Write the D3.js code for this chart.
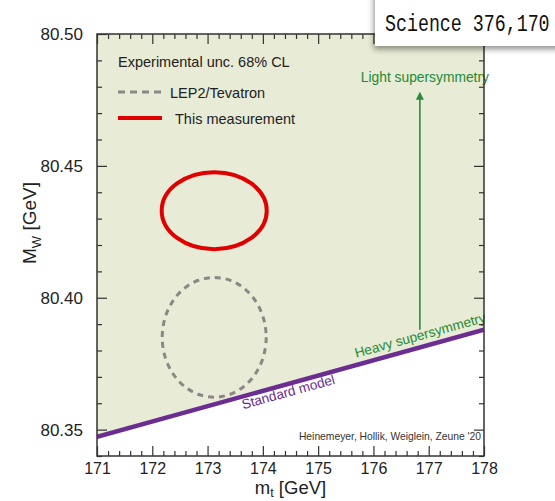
<!DOCTYPE html>
<html lang="en">
<head>
<meta charset="utf-8">
<title>MW vs mt</title>
<script src="https://d3js.org/d3.v7.min.js"></script>
<style>
  body { margin: 0; background: #fff; }
  svg { display: block; font-family: "Liberation Sans", Arial, Helvetica, sans-serif; }
</style>
</head>
<body>
<svg id="chart" width="555" height="501"></svg>
<script>
// axis ticks
const xTicks = [171, 172, 173, 174, 175, 176, 177, 178];
const yTicks = [80.35, 80.40, 80.45, 80.50];

// standard model line (mt, MW)
const smMt = [171, 178];
const smMw = [80.3473, 80.3879];

// 68% CL ellipses
const ellNames = ['LEP2/Tevatron', 'This measurement'];
const ellMt = [173.12, 173.12];
const ellMw = [80.385, 80.433];
const ellDMt = [0.94, 0.95];
const ellDMw = [0.0227, 0.0146];

// supersymmetry arrow
const arrowMt = 176.84;
const arrowMw = [80.3879, 80.4775];

function draw() {
  var svg = d3.select('#chart');
  var pl = 97, pr = 484, pt = 34, pb = 456;

  var x = d3.scaleLinear().domain([171, 178]).range([pl, pr]);
  var y = d3.scaleLinear().domain([80.34, 80.50]).range([pb, pt]);

  var defs = svg.append('defs');
  defs.append('clipPath').attr('id', 'plotclip')
    .append('rect').attr('x', pl).attr('y', pt)
    .attr('width', pr - pl).attr('height', pb - pt);
  var sh = defs.append('filter').attr('id', 'shadow')
    .attr('x', '-20%').attr('y', '-50%').attr('width', '140%').attr('height', '200%');
  sh.append('feDropShadow').attr('dx', -1).attr('dy', 3).attr('stdDeviation', 3)
    .attr('flood-color', '#000').attr('flood-opacity', 0.45);

  // shaded region above the SM line
  var plot = svg.append('g').attr('clip-path', 'url(#plotclip)');
  var area = [
    [x(smMt[0]), y(smMw[0])], [x(smMt[1]), y(smMw[1])],
    [x(smMt[1]), y.range()[1]], [x(smMt[0]), y.range()[1]]
  ];
  plot.append('path').attr('d', 'M' + area.join('L') + 'Z').attr('fill', '#e8ebd5');

  // ellipses
  ellNames.forEach(function(name, i) {
    var e = plot.append('ellipse')
      .attr('cx', x(ellMt[i])).attr('cy', y(ellMw[i]))
      .attr('rx', x(ellMt[i] + ellDMt[i]) - x(ellMt[i]))
      .attr('ry', y(ellMw[i]) - y(ellMw[i] + ellDMw[i]))
      .attr('fill', 'none');
    if (i == 0) {
      e.attr('stroke', '#8a8786').attr('stroke-width', 3).attr('stroke-dasharray', '6,5');
    } else {
      e.attr('stroke', '#e00000').attr('stroke-width', 4);
    }
  });

  // standard model line
  plot.append('path')
    .attr('d', d3.line()(smMt.map(function(d, i) { return [x(d), y(smMw[i])]; })))
    .attr('stroke', '#6b2d91').attr('stroke-width', 4.5).attr('fill', 'none');

  // arrow
  defs.append('marker').attr('id', 'head').attr('viewBox', '0 0 10 10')
    .attr('refX', 8).attr('refY', 5).attr('markerWidth', 8).attr('markerHeight', 8)
    .attr('markerUnits', 'userSpaceOnUse').attr('orient', 'auto')
    .append('path').attr('d', 'M0,0L10,5L0,10Z').attr('fill', '#2b8a3e');
  svg.append('line')
    .attr('x1', x(arrowMt)).attr('x2', x(arrowMt))
    .attr('y1', y(arrowMw[0])).attr('y2', y(arrowMw[1]))
    .attr('stroke', '#2b8a3e').attr('stroke-width', 1.6)
    .attr('marker-end', 'url(#head)');
  svg.append('text').attr('x', x(arrowMt) + 5).attr('y', y(arrowMw[1]) - 11)
    .attr('text-anchor', 'middle').attr('font-size', 13.8).attr('fill', '#238a33')
    .text('Light supersymmetry');

  // labels along the SM line
  var ang = Math.atan2(y(smMw[1]) - y(smMw[0]), x(smMt[1]) - x(smMt[0])) * 180 / Math.PI;
  function smAt(mt) {
    return smMw[0] + (mt - smMt[0]) * (smMw[1] - smMw[0]) / (smMt[1] - smMt[0]);
  }
  svg.append('text')
    .attr('transform', 'translate(' + x(176.9) + ',' + y(smAt(176.9)) + ') rotate(' + ang + ')')
    .attr('y', -7).attr('text-anchor', 'middle').attr('font-size', 13.6).attr('fill', '#238a33')
    .text('Heavy supersymmetry');
  svg.append('text')
    .attr('transform', 'translate(' + x(174.42) + ',' + y(smAt(174.42)) + ') rotate(' + ang + ')')
    .attr('y', 12.5).attr('text-anchor', 'middle').attr('font-size', 13.6).attr('fill', '#6b2d91')
    .text('Standard model');

  // credits
  svg.append('text').attr('x', 481).attr('y', 440).attr('text-anchor', 'end')
    .attr('font-size', 10.3).attr('fill', '#333')
    .text("Heinemeyer, Hollik, Weiglein, Zeune '20");

  // legend
  var leg = svg.append('g').attr('font-size', 14.5).attr('fill', '#222');
  leg.append('text').attr('x', 118).attr('y', 67).text('Experimental unc. 68% CL');
  leg.append('line').attr('x1', 118).attr('x2', 162).attr('y1', 92).attr('y2', 92)
    .attr('stroke', '#8a8786').attr('stroke-width', 3).attr('stroke-dasharray', '7,5');
  leg.append('text').attr('x', 170).attr('y', 97.5).text(ellNames[0]);
  leg.append('line').attr('x1', 118).attr('x2', 162).attr('y1', 118).attr('y2', 118)
    .attr('stroke', '#e00000').attr('stroke-width', 4);
  leg.append('text').attr('x', 175).attr('y', 123.5).text(ellNames[1]);

  // axes, ticks inward on all four sides
  var xMinor = d3.range(171, 178.001, 0.2).filter(function(v) { return Math.abs(v - Math.round(v)) > 0.01; });
  var yMinor = d3.range(80.34, 80.5001, 0.01).filter(function(v) { return Math.abs(v * 20 - Math.round(v * 20)) > 0.01; });

  function axisG(gen, tx, ty, fs) {
    var g = svg.append('g').attr('transform', 'translate(' + tx + ',' + ty + ')').call(gen);
    g.select('.domain').remove();
    g.selectAll('text').attr('font-size', fs).attr('fill', '#222')
      .attr('font-family', '"Liberation Sans", Arial, sans-serif');
    g.selectAll('line').attr('stroke', '#333').attr('stroke-width', 1.2);
    return g;
  }
  axisG(d3.axisBottom(x).tickValues(xTicks).tickSize(-10).tickPadding(7).tickFormat(d3.format('d')), 0, pb, 16);
  axisG(d3.axisBottom(x).tickValues(xMinor).tickSize(-5).tickFormat(''), 0, pb);
  axisG(d3.axisTop(x).tickValues(xTicks).tickSize(-10).tickFormat(''), 0, pt);
  axisG(d3.axisTop(x).tickValues(xMinor).tickSize(-5).tickFormat(''), 0, pt);
  axisG(d3.axisLeft(y).tickValues(yTicks).tickSize(-10).tickPadding(14).tickFormat(d3.format('.2f')), pl, 0, 17);
  axisG(d3.axisLeft(y).tickValues(yMinor).tickSize(-5).tickFormat(''), pl, 0);
  axisG(d3.axisRight(y).tickValues(yTicks).tickSize(-10).tickFormat(''), pr, 0);
  axisG(d3.axisRight(y).tickValues(yMinor).tickSize(-5).tickFormat(''), pr, 0);

  svg.append('rect').attr('x', pl).attr('y', pt)
    .attr('width', pr - pl).attr('height', pb - pt)
    .attr('fill', 'none').attr('stroke', '#333').attr('stroke-width', 1.5);

  // axis titles
  var xt = svg.append('text').attr('x', (pl + pr) / 2).attr('y', 494)
    .attr('text-anchor', 'middle').attr('font-size', 18.5).attr('fill', '#222');
  xt.append('tspan').text('m');
  xt.append('tspan').attr('dy', 3).attr('font-size', 12.5).text('t');
  xt.append('tspan').attr('dy', -3).text(' [GeV]');

  var yt = svg.append('text').attr('transform', 'translate(36,223) rotate(-90)')
    .attr('text-anchor', 'middle').attr('font-size', 19).attr('fill', '#222');
  yt.append('tspan').text('M');
  yt.append('tspan').attr('dy', 5).attr('font-size', 13).text('W');
  yt.append('tspan').attr('dy', -5).text(' [GeV]');

  // journal stamp in the corner
  svg.append('rect').attr('x', 375).attr('y', -10).attr('width', 200).attr('height', 56)
    .attr('fill', '#fff').attr('filter', 'url(#shadow)');
  svg.append('text').attr('transform', 'translate(385,31) scale(1,1.35)')
    .attr('font-family', '"Liberation Mono", "Courier New", monospace')
    .attr('font-size', 18.3).attr('fill', '#111')
    .text('Science 376,170');
}
draw();
</script>
</body>
</html>
